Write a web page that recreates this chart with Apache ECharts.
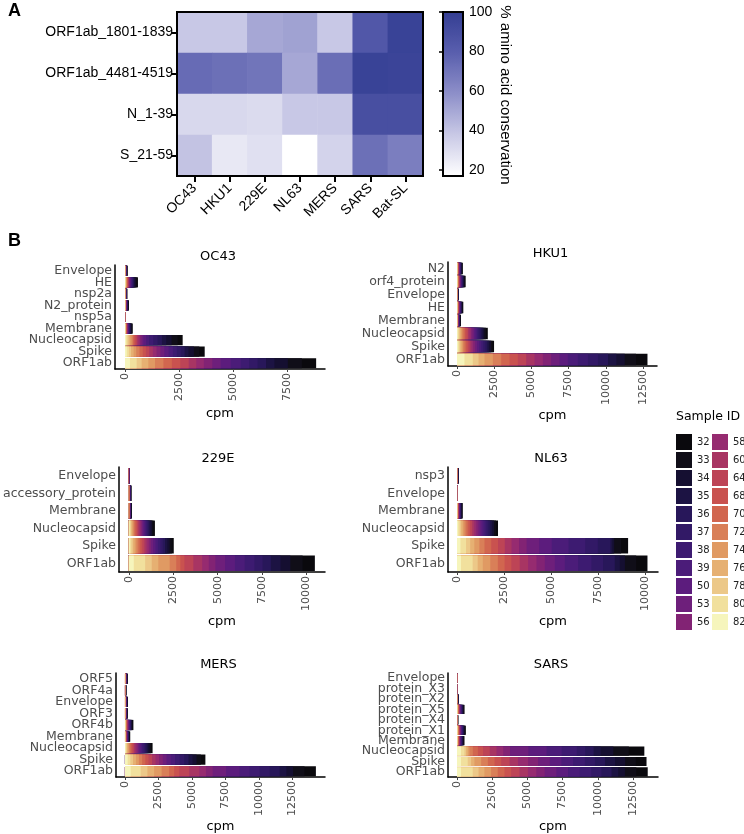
<!DOCTYPE html>
<html><head><meta charset="utf-8">
<script src="https://cdn.jsdelivr.net/npm/echarts@6/dist/echarts.min.js"></script>
<style>html,body{margin:0;padding:0;background:#fff}#c{width:744px;height:834px}</style>
</head><body><div id="c"></div><script>
// ---------- Panel A data ----------
const heatCols = ['OC43','HKU1','229E','NL63','MERS','SARS','Bat-SL'];
const heatRows = ['ORF1ab_1801-1839','ORF1ab_4481-4519','N_1-39','S_21-59'];
const heat_ORF1ab_1801 = [38,38,50,52,38,84,97];
const heat_ORF1ab_4481 = [74,72,70,50,73,97,96];
const heat_N_1_39 = [32,32,31,38,38,89,89];
const heat_S_21_59 = [40,26,29,17,34,72,66];
const colorbarTicks = [20,40,60,80,100];

// ---------- Panel B data ----------
// stacking order (left to right)
const sampleIds = ['82','80','78','76','74','72','70','68','64','60','58','56','53','50','39','38','37','36','35','34','33','32'];
const sampleColors = ['#f6f5bc','#f1e09d','#ecc888','#e6b072','#e09a63','#d97f58','#d1664f','#c9524f','#bd4456','#a83563','#962b70','#822374','#6e1f7b','#5c1c7d','#4b1c79','#3d1b71','#321966','#28175a','#1c1343','#150f31','#100e18','#0a090d'];
const legendLeftIds = ['32','33','34','35','36','37','38','39','50','53','56'];
const legendRightIds = ['58','60','64','68','70','72','74','76','78','80','82'];

const ticksOC43 = [0,2500,5000,7500];
const ticksHKU1 = [0,2500,5000,7500,10000,12500];
const ticks229E = [0,2500,5000,7500,10000];
const ticksNL63 = [0,2500,5000,7500,10000];
const ticksMERS = [0,2500,5000,7500,10000,12500];
const ticksSARS = [0,2500,5000,7500,10000,12500];

const oc43Genes = ['Envelope','HE','nsp2a','N2_protein','nsp5a','Membrane','Nucleocapsid','Spike','ORF1ab'];
const oc43_Envelope = [2,3,3,3,3,4,4,4,4,5,5,6,6,6,6,7,7,7,8,10,11,11];
const oc43_HE = [10,15,15,15,15,20,20,20,20,20,20,25,25,30,30,35,35,35,40,50,50,55];
const oc43_nsp2a = [2,3,3,3,3,4,4,4,4,4,4,5,5,5,5,6,6,6,7,9,9,10];
const oc43_N2_protein = [3,5,5,5,5,6,6,6,6,6,6,8,8,9,9,11,11,11,12,15,15,17];
const oc43_nsp5a = [1,1,1,1,1,1,1,1,1,2,2,2,2,2,2,2,2,2,2,3,3,4];
const oc43_Membrane = [6,9,9,9,9,12,12,12,12,12,12,15,15,18,18,21,21,21,24,30,30,33];
const oc43_Nucleocapsid = [50,60,60,70,70,60,60,60,60,70,70,80,80,130,130,200,200,200,200,250,280,230];
const oc43_Spike = [80,100,100,120,120,150,150,150,150,170,170,180,180,200,200,180,180,180,180,250,250,250];
const oc43_ORF1ab = [230,310,230,310,310,390,390,390,390,350,350,390,390,465,465,390,390,390,390,620,650,660];

const hku1Genes = ['N2','orf4_protein','Envelope','HE','Membrane','Nucleocapsid','Spike','ORF1ab'];
const hku1_N2 = [8,10,10,10,10,14,14,14,14,16,16,18,18,20,20,22,22,22,24,28,30,32];
const hku1_orf4_protein = [10,15,15,15,15,20,20,20,20,22,22,25,25,30,30,35,35,35,38,42,45,48];
const hku1_Envelope = [2,3,3,3,3,4,4,4,4,5,5,6,6,6,6,7,7,7,8,10,11,11];
const hku1_HE = [8,10,11,11,11,15,15,15,15,17,17,19,19,22,22,24,24,24,26,30,33,36];
const hku1_Membrane = [5,7,7,7,7,9,9,9,9,11,11,12,12,14,14,15,15,15,17,19,21,22];
const hku1_Nucleocapsid = [50,60,70,80,90,90,100,100,100,100,100,100,100,100,100,100,100,100,100,100,110,120];
const hku1_Spike = [70,80,80,90,90,100,110,110,120,120,120,130,130,140,140,140,140,130,120,120,110,100];
const hku1_ORF1ab = [500,560,390,400,560,560,560,560,560,560,560,560,560,560,675,675,675,675,560,560,765,765];

const e229Genes = ['Envelope','accessory_protein','Membrane','Nucleocapsid','Spike','ORF1ab'];
const e229_Envelope = [1,1,1,1,1,2,2,2,2,2,2,3,3,3,3,3,3,3,3,4,4,4];
const e229_accessory_protein = [3,4,4,4,4,5,5,5,5,6,6,7,7,8,8,9,9,9,10,12,13,14];
const e229_Membrane = [3,4,5,5,5,6,6,6,6,7,7,8,8,9,9,10,10,10,11,13,14,15];
const e229_Nucleocapsid = [40,50,50,60,60,60,70,70,70,70,70,70,70,70,70,70,70,70,70,80,80,80];
const e229_Spike = [60,80,90,100,100,110,110,110,120,120,120,120,130,130,140,140,130,130,130,130,120,110];
const e229_ORF1ab = [280,640,370,370,640,370,230,230,500,500,370,370,550,550,550,550,460,460,550,550,690,690];

const nl63Genes = ['nsp3','Envelope','Membrane','Nucleocapsid','Spike','ORF1ab'];
const nl63_nsp3 = [1,2,2,2,2,3,3,3,3,4,4,5,5,5,5,6,6,6,6,7,7,8];
const nl63_Envelope = [1,1,1,1,1,1,1,1,1,2,2,2,2,2,2,2,2,2,2,3,3,3];
const nl63_Membrane = [5,7,7,8,8,10,10,10,10,12,12,14,14,16,16,18,18,18,20,22,24,26];
const nl63_Nucleocapsid = [60,80,80,90,90,100,100,100,110,110,110,110,110,110,110,100,100,100,100,100,100,110];
const nl63_Spike = [180,300,220,220,270,270,360,360,360,360,400,400,670,670,890,890,670,670,100,100,370,370];
const nl63_ORF1ab = [210,620,270,270,400,400,360,360,445,445,445,445,530,530,710,710,620,620,270,270,600,600];

const mersGenes = ['ORF5','ORF4a','Envelope','ORF3','ORF4b','Membrane','Nucleocapsid','Spike','ORF1ab'];
const mers_ORF5 = [4,5,6,6,6,8,8,8,8,9,9,10,10,11,11,12,12,12,13,14,15,16];
const mers_ORF4a = [2,3,3,3,3,4,4,4,4,5,5,5,5,6,6,7,7,7,7,8,8,9];
const mers_Envelope = [4,6,6,6,6,8,8,8,8,9,9,10,10,12,12,13,13,13,14,15,16,17];
const mers_ORF3 = [4,5,6,6,6,8,8,8,8,9,9,10,10,11,11,12,12,12,13,14,15,16];
const mers_ORF4b = [12,16,18,18,18,22,22,22,24,26,26,28,28,32,32,36,36,36,38,42,46,50];
const mers_Membrane = [8,10,10,10,10,14,14,14,14,16,16,18,18,20,20,22,22,22,24,28,30,32];
const mers_Nucleocapsid = [40,50,60,70,80,90,90,90,100,100,100,100,100,110,110,110,110,110,110,110,110,110];
const mers_Spike = [200,200,200,220,220,240,240,240,260,260,260,280,280,320,320,340,340,320,300,300,320,340];
const mers_ORF1ab = [425,750,500,500,560,560,375,375,750,750,500,500,1000,1000,750,750,750,750,500,500,850,850];

const sarsGenes = ['Envelope','protein_X3','protein_X2','protein_X5','protein_X4','protein_X1','Membrane','Nucleocapsid','Spike','ORF1ab'];
const sars_Envelope = [1,1,1,2,2,2,2,2,2,2,2,3,3,3,3,3,3,3,3,4,4,4];
const sars_protein_X3 = [1,1,1,1,1,1,1,1,1,2,2,2,2,2,2,2,2,2,2,2,3,3];
const sars_protein_X2 = [2,3,3,3,3,4,4,4,4,5,5,6,6,7,7,8,8,8,9,10,11,12];
const sars_protein_X5 = [10,14,15,15,15,19,19,19,20,22,22,24,24,27,27,31,31,31,33,36,40,43];
const sars_protein_X4 = [2,2,2,2,2,3,3,3,3,4,4,4,4,5,5,6,6,6,6,7,8,9];
const sars_protein_X1 = [12,16,18,18,18,22,22,22,24,26,26,28,28,32,32,36,36,36,38,42,46,50];
const sars_Membrane = [10,14,14,15,15,19,19,19,20,22,22,24,24,27,27,30,30,30,32,36,40,43];
const sars_Nucleocapsid = [285,240,120,120,120,240,360,360,480,480,480,480,1300,1300,1070,1070,600,600,500,900,1100,1100];
const sars_Spike = [285,475,240,240,475,475,475,475,595,595,715,715,830,830,830,830,715,715,715,715,760,760];
const sars_ORF1ab = [285,830,415,415,475,475,475,475,595,595,595,595,830,830,830,830,715,715,475,475,810,810];

// ---------- build ----------
const panels = [
  {name:'OC43', genes:oc43Genes, vals:[oc43_Envelope,oc43_HE,oc43_nsp2a,oc43_N2_protein,oc43_nsp5a,oc43_Membrane,oc43_Nucleocapsid,oc43_Spike,oc43_ORF1ab], ticks:ticksOC43,
   left:115, top:265, width:210, height:104, min:-463, max:9260},
  {name:'HKU1', genes:hku1Genes, vals:[hku1_N2,hku1_orf4_protein,hku1_Envelope,hku1_HE,hku1_Membrane,hku1_Nucleocapsid,hku1_Spike,hku1_ORF1ab], ticks:ticksHKU1,
   left:448, top:262, width:209, height:104, min:-605, max:13440},
  {name:'229E', genes:e229Genes, vals:[e229_Envelope,e229_accessory_protein,e229_Membrane,e229_Nucleocapsid,e229_Spike,e229_ORF1ab], ticks:ticks229E,
   left:115, top:467, width:210, height:105, min:-552, max:11040},
  {name:'NL63', genes:nl63Genes, vals:[nl63_nsp3,nl63_Envelope,nl63_Membrane,nl63_Nucleocapsid,nl63_Spike,nl63_ORF1ab], ticks:ticksNL63,
   left:448, top:467, width:210, height:105, min:-480, max:10690},
  {name:'MERS', genes:mersGenes, vals:[mers_ORF5,mers_ORF4a,mers_Envelope,mers_ORF3,mers_ORF4b,mers_Membrane,mers_Nucleocapsid,mers_Spike,mers_ORF1ab], ticks:ticksMERS,
   left:116, top:673, width:209, height:104, min:-670, max:14925},
  {name:'SARS', genes:sarsGenes, vals:[sars_Envelope,sars_protein_X3,sars_protein_X2,sars_protein_X5,sars_protein_X4,sars_protein_X1,sars_Membrane,sars_Nucleocapsid,sars_Spike,sars_ORF1ab], ticks:ticksSARS,
   left:448, top:673, width:210, height:105, min:-640, max:14275}
];

const FA = 'Liberation Sans, Arial, sans-serif';
const FB = 'DejaVu Sans, sans-serif';

const grid = [
  {left:177, top:12, width:246, height:164, show:true, borderColor:'#000', borderWidth:2, backgroundColor:'transparent', z:5},
  {left:443, top:12, width:20, height:164, show:true, borderColor:'#000', borderWidth:2, backgroundColor:'transparent', z:5}
];
const xAxis = [
  {gridIndex:0, type:'category', data:heatCols,
   axisLine:{show:true, lineStyle:{color:'#000', width:2}},
   axisTick:{show:true, alignWithLabel:true, length:6, lineStyle:{color:'#000', width:2}},
   axisLabel:{rotate:45, fontSize:14, color:'#000', fontFamily:FA, margin:10, interval:0}},
  {gridIndex:1, type:'value', show:false}
];
const yAxis = [
  {gridIndex:0, type:'category', data:heatRows, inverse:true,
   axisLine:{show:true, lineStyle:{color:'#000', width:2}},
   axisTick:{show:true, alignWithLabel:true, length:6, lineStyle:{color:'#000', width:2}},
   axisLabel:{fontSize:14, color:'#000', fontFamily:FA, margin:4, interval:0}},
  {gridIndex:1, type:'value', min:17, max:100, position:'right', z:10,
   axisLine:{show:false}, splitLine:{show:false},
   axisTick:{show:true, inside:true, customValues:colorbarTicks, length:4, lineStyle:{color:'#000', width:1.5}},
   axisLabel:{customValues:colorbarTicks, fontSize:14, color:'#000', fontFamily:FA, margin:6}}
];

const heatValues = [heat_ORF1ab_1801, heat_ORF1ab_4481, heat_N_1_39, heat_S_21_59];
const heatData = [];
heatValues.forEach((row, r) => row.forEach((v, c) => heatData.push([c, r, v])));

const series = [{type:'heatmap', xAxisIndex:0, yAxisIndex:0, data:heatData, itemStyle:{borderWidth:0}, emphasis:{disabled:true}}];

const graphic = [
  {type:'text', x:8, y:2, style:{text:'A', fontSize:18, fontWeight:'bold', fontFamily:FA, fill:'#000'}},
  {type:'text', x:8, y:232, style:{text:'B', fontSize:18, fontWeight:'bold', fontFamily:FA, fill:'#000'}},
  {type:'text', x:505, y:95, rotation:-Math.PI/2, style:{text:'% amino acid conservation', fontSize:15, fontFamily:FA, fill:'#000', align:'center', verticalAlign:'middle'}},
  {type:'text', x:676, y:410, style:{text:'Sample ID', fontSize:12.5, fontFamily:FB, fill:'#000'}}
];

panels.forEach((p, k) => {
  const gi = k + 2;
  grid.push({left:p.left, top:p.top, width:p.width, height:p.height});
  xAxis.push({gridIndex:gi, type:'value', min:p.min, max:p.max,
    axisLine:{show:true, onZero:false, lineStyle:{color:'#000', width:1.5}},
    axisTick:{show:true, customValues:p.ticks, length:3, lineStyle:{color:'#444'}},
    axisLabel:{customValues:p.ticks, rotate:90, fontSize:11, color:'#4d4d4d', fontFamily:FB, margin:4,
      formatter:v => String(v)},
    splitLine:{show:false},
    name:'cpm', nameLocation:'middle', nameGap:38, nameTextStyle:{fontSize:13, color:'#000', fontFamily:FB}});
  yAxis.push({gridIndex:gi, type:'category', data:p.genes, inverse:true,
    axisLine:{show:true, onZero:false, lineStyle:{color:'#000', width:1.5}},
    axisTick:{show:false},
    axisLabel:{interval:0, fontSize:12.5, color:'#4d4d4d', fontFamily:FB, margin:3, lineHeight:11}});
  graphic.push({type:'text', x:p.left + p.width/2 - 2, y:p.top - 8,
    style:{text:p.name, fontSize:13, fontFamily:FB, fill:'#000', align:'center', verticalAlign:'middle'}});
  // cumulative ends of each sample's segment (stacked layout, drawn as overlapping bars from 0)
  const cum = p.vals.map(arr => { let s = 0; return arr.map(v => (s += v)); });
  for (let j = sampleIds.length - 1; j >= 0; j--) {
    series.push({type:'bar', name:sampleIds[j], xAxisIndex:gi, yAxisIndex:gi,
      data:p.genes.map((g, gIdx) => cum[gIdx][j]),
      itemStyle:{color:sampleColors[j]},
      barGap:'-100%', barCategoryGap:'12%', emphasis:{disabled:true}});
  }
});

const legendCommon = {orient:'vertical', top:434, itemWidth:16, itemHeight:16, itemGap:2, padding:0,
  icon:'rect', selectedMode:false, textStyle:{fontSize:10, color:'#222', fontFamily:FB}, itemStyle:{borderWidth:0}};

const option = {
  animation:false,
  backgroundColor:'#fff',
  grid, xAxis, yAxis, series, graphic,
  visualMap:{type:'continuous', min:17, max:100, seriesIndex:0, dimension:2, orient:'vertical',
    left:443, top:12, itemWidth:20, itemHeight:164, padding:0, calculable:false, hoverLink:false,
    text:null, showLabel:false,
    inRange:{color:['#ffffff','#c9c9e6','#8e90c9','#5a5fae','#343e93']}},
  legend:[
    Object.assign({}, legendCommon, {left:676, data:legendLeftIds}),
    Object.assign({}, legendCommon, {left:712, data:legendRightIds})
  ]
};

const chart = echarts.init(document.getElementById('c'), null, {renderer:'canvas'});
chart.setOption(option);
</script></body></html>
